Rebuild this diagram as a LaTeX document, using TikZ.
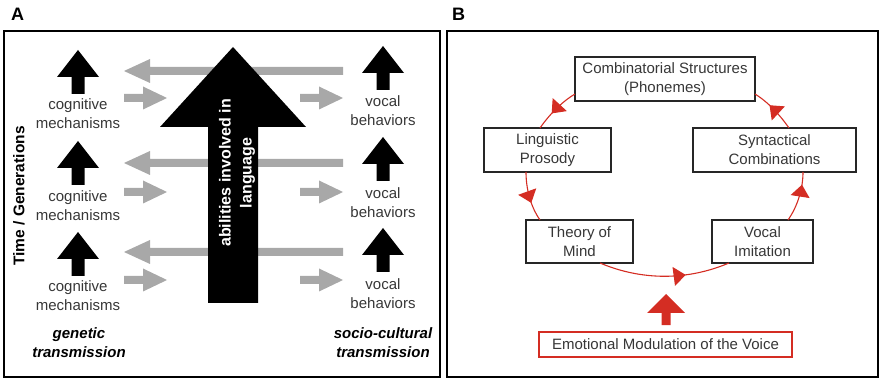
\documentclass[tikz,border=0pt]{standalone}
\usepackage{fontspec}
\setmainfont{Liberation Sans}
\usetikzlibrary{arrows.meta,decorations.markings}
\definecolor{arrgray}{RGB}{168,168,168}
\definecolor{txtgray}{RGB}{55,55,55}
\definecolor{cred}{RGB}{212,45,35}
\tikzset{
  lbl/.style={font=\fontsize{15}{19}\selectfont, text=txtgray, align=center, inner sep=0pt},
  trans/.style={font=\bfseries\itshape\fontsize{15}{19}\selectfont, align=center, inner sep=0pt},
  panel/.style={draw=black, line width=1.5pt},
  box/.style={draw=black!85, line width=1.1pt, fill=white, inner sep=0pt, outer sep=0pt,
    align=center, font=\fontsize{15}{19}\selectfont, text=txtgray},
  cyc/.style={draw=cred, line width=1.1pt, looseness=0.85, postaction={decorate},
    decoration={markings, mark=at position #1 with {\arrow[color=cred]{Triangle[length=12pt,width=19pt]}}}},
  blk/.pic={\fill[black] (0,0) -- (21,-27) -- (6.5,-27) -- (6.5,-44) -- (-6.5,-44) -- (-6.5,-27) -- (-21,-27) -- cycle;},
  longleft/.pic={\fill[arrgray] (0,0) -- (26,12) -- (26,4) -- (219,4) -- (219,-4) -- (26,-4) -- (26,-12) -- cycle;},
  shortright/.pic={\fill[arrgray] (0,0) -- (-24,11.5) -- (-24,4) -- (-43,4) -- (-43,-4) -- (-24,-4) -- (-24,-11.5) -- cycle;},
  panellabel/.style={font=\bfseries\fontsize{18}{18}\selectfont, inner sep=0pt},
}
\begin{document}
\begin{tikzpicture}[x=1pt,y=1pt]
\useasboundingbox (0,0) rectangle (879,378);
% ---------- Panel A ----------
\node[panellabel] (labA) at (17.5,364) {A};
\draw[panel] (4,1) rectangle (440,347);
% gray arrows
\foreach \y in {307,215,126} { \pic at (124,\y) {longleft}; }
\foreach \y in {280,186,98} { \pic at (167,\y) {shortright}; \pic at (343,\y) {shortright}; }
% big black arrow
\fill[black] (208,75) -- (208,251) -- (160,251) -- (233,331) -- (306,251) -- (258,251) -- (258,75) -- cycle;
\node[rotate=90, text=white, font=\bfseries\fontsize{16}{21}\selectfont, align=center, inner sep=0pt] (abil) at (237,205) {abilities involved in\\language};
% small black arrows
\foreach \y in {328,237,146} { \pic at (78,\y) {blk}; }
\foreach \y in {332,241,150} { \pic at (383,\y) {blk}; }
% texts
\foreach \y [count=\i] in {264.5,172.5,82.5} { \node[lbl] (cog\i) at (78,\y) {cognitive\\mechanisms}; }
\foreach \y [count=\i] in {267.5,175.5,84.5} { \node[lbl] (voc\i) at (383,\y) {vocal\\behaviors}; }
\node[rotate=90, font=\bfseries\fontsize{15.5}{19}\selectfont, inner sep=0pt] (time) at (19,182) {Time / Generations};
\node[trans] (gen) at (79,35.5) {genetic\\transmission};
\node[trans] (soc) at (383,35.5) {socio-cultural\\transmission};
% ---------- Panel B ----------
\node[panellabel] (labB) at (458.5,364) {B};
\draw[panel] (447,1) rectangle (878,347);
\node[box, minimum width=180pt, minimum height=44pt] (comb) at (665,299) {Combinatorial Structures\\(Phonemes)};
\node[box, minimum width=127pt, minimum height=44pt] (ling) at (547.5,228) {Linguistic\\Prosody};
\node[box, minimum width=163pt, minimum height=44pt] (syn) at (774.5,228) {Syntactical\\Combinations};
\node[box, minimum width=107pt, minimum height=43pt] (theory) at (579.5,136.5) {Theory of\\Mind};
\node[box, minimum width=101pt, minimum height=43pt] (vocal) at (762.5,136.5) {Vocal\\Imitation};
\node[box, draw=cred, minimum width=253pt, minimum height=25pt] (emo) at (665.5,33.5) {Emotional Modulation of the Voice};
\fill[cred] (661.5,53) -- (661.5,65) -- (647,65) -- (666,84) -- (685,65) -- (670.5,65) -- (670.5,53) -- cycle;
\draw[cyc=0.62] ([yshift=7pt]comb.south west) to[out=211,in=55] ([xshift=56pt]ling.north west);
\draw[cyc=0.62] ([xshift=42pt]ling.south west) to[out=270,in=125] ([xshift=14pt]theory.north west);
\draw[cyc=0.66, looseness=0.9] ([xshift=74pt]theory.south west) to[out=337,in=203] ([xshift=17pt]vocal.south west);
\draw[cyc=0.75] ([xshift=76pt]vocal.north west) to[out=55,in=270] ([xshift=110pt]syn.south west);
\draw[cyc=0.62] ([xshift=96pt]syn.north west) to[out=125,in=328] ([yshift=7pt]comb.south east);
\end{tikzpicture}
\end{document}
